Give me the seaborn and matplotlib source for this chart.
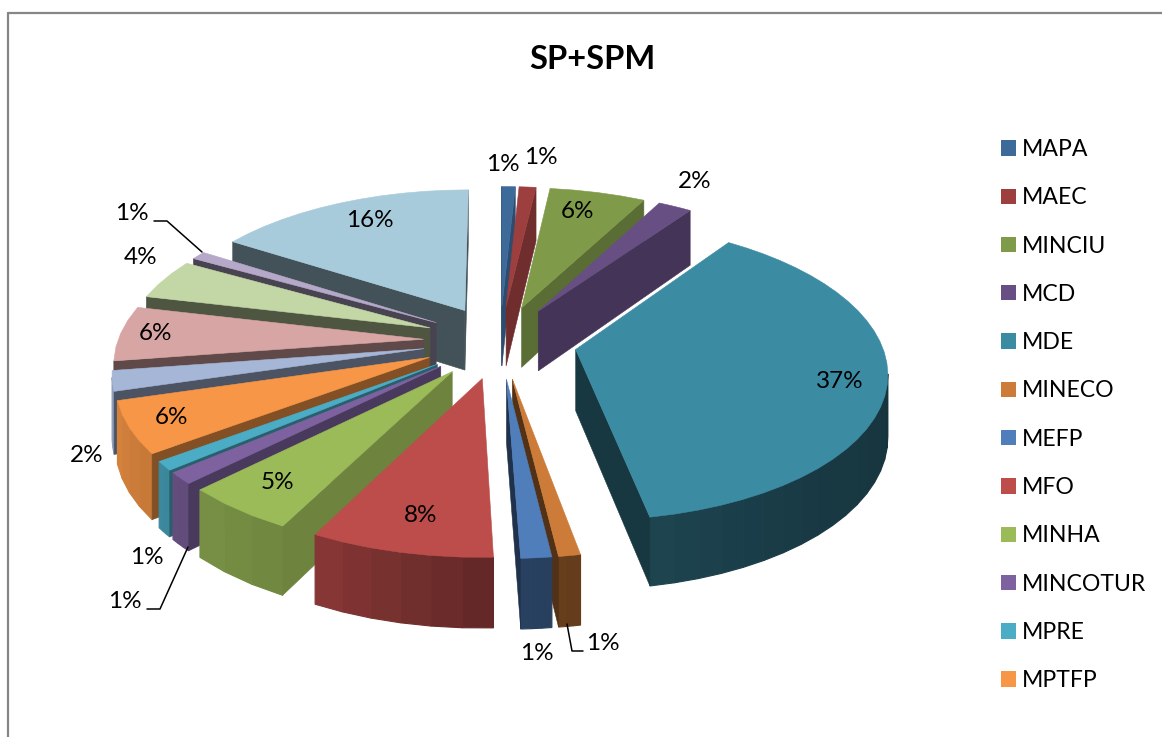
import numpy as np
import matplotlib
matplotlib.use("Agg")
import matplotlib.pyplot as plt
from matplotlib.patches import Patch
import seaborn as sns

title = "SP+SPM"
categories = ["MAPA", "MAEC", "MINCIU", "MCD", "MDE", "MINECO", "MEFP", "MFO", "MINHA",
              "MINCOTUR", "MPRE", "MPTFP", "S13", "S14", "S15", "S16", "S17"]
values = [0.8, 1.0, 5.7, 2.0, 37.5, 1.0, 1.4, 8.4, 5.2, 1.3, 1.0, 5.7, 2.2, 6.0, 4.4, 0.9, 15.5]
pct_labels = ["1%", "1%", "6%", "2%", "37%", "1%", "1%", "8%", "5%", "1%", "1%", "6%", "2%", "6%", "4%", "1%", "16%"]
colors = ["#3E6A9A", "#9C3F3E", "#7F9A49", "#674F83", "#3B8BA3", "#CC7B38", "#4F7EBB", "#BD4D4B",
          "#9BBB59", "#7E62A0", "#4BACC6", "#F79646", "#A5B6D7", "#D8A5A5", "#C3D6A5", "#B5A8C8", "#A8CBDC"]
label_xy = [(503, 164), (541, 157), (577, 211), (695, 181), (840, 381), (603, 644), (537, 653), (421, 515),
            (277, 482), (147, 558), (125, 601), (171, 417), (87, 455), (155, 333), (141, 257), (132, 213), (370, 220)]
leaders = [[(583, 651), (572, 651), (567, 624)],
           [(147, 609), (160, 609), (188, 547)],
           [(154, 221), (167, 221), (202, 252)]]
legend_count = 12

CX, CY, RX, RY, EXPL, PERSP, DEPTH, RIM_DY = 500, 342, 307.5, 146, 0.25, 0.11, 61, 5

sns.set_theme(style="white")
plt.rcParams["font.family"] = ["Lato", "DejaVu Sans"]
fig = plt.figure(figsize=(11.62, 7.37), dpi=100, facecolor="white")
ax = fig.add_axes([0, 0, 1, 1])
ax.set_xlim(0, 1162)
ax.set_ylim(737, 0)
ax.axis("off")


def project(r, th, off, z=0.0):
    X = r * np.sin(th) + EXPL * np.sin(off)
    Y = r * np.cos(th) + EXPL * np.cos(off)
    s = 1.0 / (1.0 + PERSP * Y)
    return CX + RX * X * s, CY + RIM_DY * r - RY * Y * s + z * DEPTH * s


def shade(c, f):
    return tuple(np.array(matplotlib.colors.to_rgb(c)) * f)


frac = np.array(values) / np.sum(values)
edges = np.concatenate([[0], np.cumsum(frac)]) * 2 * np.pi
mids = (edges[:-1] + edges[1:]) / 2
order = np.argsort(-np.cos(mids))

for i in order:
    a, b, m, col = edges[i], edges[i + 1], mids[i], colors[i]
    ax0, ay0 = project(0, 0, m)
    ax1, ay1 = project(0, 0, m, 1)
    # outer wall, built from wide bands of slowly changing shade
    ths = np.linspace(a, b, max(4, int((b - a) / 0.07)))
    px, py = project(1, ths, m)
    qx, qy = project(1, ths, m, 1)
    for k in range(len(ths) - 1):
        if px[k + 1] < px[k]:
            deg = np.degrees((ths[k] + ths[k + 1]) / 2)
            f = np.interp(deg, [90, 140, 180, 208, 230, 250, 270], [0.36, 0.42, 0.52, 0.72, 0.78, 0.85, 0.9])
            c = shade(col, min(f, 1))
            ax.fill([px[k], px[k + 1], qx[k + 1], qx[k]], [py[k], py[k + 1], qy[k + 1], qy[k]],
                    color=c, lw=0.8, zorder=1)
    # cut faces
    faces = []
    if px[0] < ax0:
        faces.append((a, np.degrees(a) - 90))
    if px[-1] > ax0:
        faces.append((b, np.degrees(b) + 90))
    for th, normal in faces:
        tx, ty = project(1, th, m)
        ux, uy = project(1, th, m, 1)
        f = np.interp(normal, [115, 140, 150, 190, 260], [0.72, 0.56, 0.5, 0.4, 0.4])
        ax.fill([ax0, tx, ux, ax1], [ay0, ty, uy, ay1], color=shade(col, f), lw=0.4, zorder=1)
    # top
    ax.fill(np.r_[ax0, px], np.r_[ay0, py], color=col, lw=0.4, zorder=1)

for text, (x, y) in zip(pct_labels, label_xy):
    ax.text(x, y, text, ha="center", va="center", fontsize=17.5, color="black", zorder=5)
for pts in leaders:
    ax.plot(*zip(*pts), color="black", lw=1.1, zorder=4)

ax.text(592, 59, title, ha="center", va="center", fontsize=23.5, fontweight="bold", color="black")

# chart frame
ax.plot([8, 8], [737, 12.5], color="#868686", lw=1.6, zorder=0)
ax.plot([8, 1162], [12.5, 12.5], color="#868686", lw=1.6, zorder=0)

handles = [Patch(facecolor=c, edgecolor="none", label=n)
           for c, n in zip(colors[:legend_count], categories[:legend_count])]
ax.legend(handles=handles, loc="upper left", bbox_to_anchor=(1001 / 1162, 1 - 139 / 737), borderaxespad=0,
          borderpad=0, frameon=False, fontsize=16.6, handlelength=0.65, handleheight=0.65,
          handletextpad=0.27, labelspacing=1.184, labelcolor="black")

fig.savefig("out.png", dpi=100)
